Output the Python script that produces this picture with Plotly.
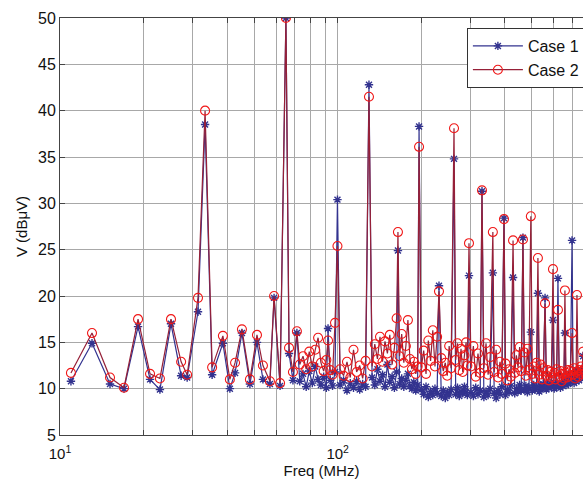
import plotly.graph_objects as go

# ---------------- data (frequency in MHz, levels in dBuV) ----------------
low_freq = [10.95, 13.04, 15.14, 17.0, 19.1, 21.1, 22.9, 25.1, 27.3, 28.7, 31.4, 33.3,
            35.3, 38.6, 40.9, 42.7, 45.2, 48.3, 51.2, 53.8, 57.0, 59.0, 62.0, 65.1,
            66.8, 69.0, 71.3]
low_case1 = [10.8, 14.9, 10.5, 10.0, 16.7, 11.0, 9.9, 17.0, 11.4, 11.2, 18.3, 38.5,
             11.5, 14.9, 10.0, 11.7, 16.0, 10.5, 15.0, 11.0, 10.5, 19.8, 10.3, 50.0,
             13.8, 10.9, 16.0]
low_case2 = [11.7, 16.0, 11.2, 10.1, 17.5, 11.6, 11.1, 17.5, 12.9, 11.5, 19.8, 40.0,
             12.3, 15.7, 11.0, 12.8, 16.4, 11.0, 15.8, 12.5, 10.8, 20.0, 10.6, 50.0,
             14.4, 11.8, 16.2]

mid_freq = [73, 75, 77, 79, 81, 83, 85, 87, 89, 91, 92.3, 94, 95.8, 97.8, 99.8,
            102, 105, 108, 111, 114, 117, 120, 123, 126, 129.6, 133, 136, 139, 142, 145,
            148, 151, 154, 157, 160, 163, 164.8, 167, 170, 173, 176, 179, 182, 185, 188,
            191, 194, 196.3, 200, 204, 208, 212, 216, 220, 224, 228, 231.6, 236, 240,
            244, 248, 252, 256, 262.3, 266, 270, 274, 278, 282, 286, 290, 293, 297]
mid_case1 = [10.8, 11.6, 10.2, 11.9, 10.6, 12.4, 11.0, 10.4, 11.3, 10.1, 16.5, 10.9, 10.3, 11.8, 30.4,
             10.4, 10.9, 9.8, 10.6, 10.1, 10.8, 9.9, 10.5, 10.2, 42.8, 11.2, 10.4, 12.1, 10.8, 11.5,
             10.2, 12.6, 10.7, 11.3, 10.1, 11.8, 24.9, 10.5, 11.1, 10.2, 10.9, 11.6, 10.3, 10.0, 10.7,
             9.8, 10.4, 38.3, 9.9, 9.4, 10.2, 9.1, 9.7, 9.3, 10.0, 9.5, 21.1, 9.2, 9.8,
             9.0, 9.6, 9.3, 9.9, 34.8, 9.4, 10.1, 9.2, 9.7, 9.5, 10.2, 9.6, 9.3, 22.2]
mid_case2 = [12.6, 13.5, 12.1, 14.0, 12.4, 14.2, 15.5, 12.8, 11.9, 13.1, 15.2, 12.0, 11.5, 17.1, 25.4,
             12.1, 11.4, 12.9, 11.2, 14.2, 11.8, 12.5, 11.1, 13.0, 41.5, 12.4, 14.8, 13.2, 15.6, 12.9,
             15.1, 13.8, 15.8, 12.6, 14.4, 17.6, 26.9, 13.5, 15.9, 12.8, 14.6, 17.4, 13.2, 12.1, 12.9,
             11.6, 12.4, 36.1, 12.3, 14.1, 11.6, 15.2, 13.0, 16.3, 12.4, 15.6, 20.5, 13.3, 11.9,
             12.8, 11.4, 14.6, 12.2, 38.1, 13.1, 14.9, 12.0, 14.3, 11.8, 13.6, 15.0, 12.5, 25.7]

high_freq = [302, 308, 314, 320, 326, 330.8, 336, 342, 348, 354, 362, 366, 372, 378, 384, 390,
             397, 402, 408, 414, 420, 428, 434, 440, 446, 452, 458, 464.6, 470, 476, 482, 488,
             496, 502, 508, 514, 520, 526, 532, 538, 544, 550, 558, 564, 570, 576, 582, 588,
             596, 602, 608, 614, 621, 628, 634, 640, 646, 652, 658, 664, 670, 676, 682, 688,
             698, 704, 710, 716, 722, 727, 734, 740, 746, 752, 758, 765, 772, 780]
high_case1 = [9.6, 9.2, 10.1, 9.4, 9.8, 31.3, 9.1, 9.7, 9.3, 10.0, 22.5, 9.5, 9.0, 9.8, 9.4, 10.2,
              28.4, 9.3, 9.9, 9.6, 10.3, 22.0, 9.5, 10.0, 9.7, 10.4, 9.8, 26.3, 9.9, 10.3, 9.6, 10.1,
              16.1, 9.8, 10.4, 9.9, 10.2, 20.3, 9.7, 10.3, 10.0, 10.5, 19.8, 9.9, 10.4, 10.1, 10.6, 10.2,
              17.4, 10.0, 10.5, 10.2, 21.9, 10.4, 10.1, 10.6, 10.3, 10.8, 16.0, 10.4, 10.9, 10.5, 11.2, 10.7,
              26.0, 11.0, 10.6, 11.3, 10.8, 12.0, 11.4, 10.9, 11.6, 11.1, 11.8, 13.5, 11.4, 11.9]
high_case2 = [12.4, 14.6, 11.3, 13.8, 11.7, 31.4, 12.2, 14.9, 11.5, 13.4, 26.9, 11.8, 14.2, 11.2, 12.9, 11.6,
              28.3, 12.7, 10.9, 12.1, 11.3, 26.0, 11.7, 13.6, 12.3, 14.5, 11.9, 26.1, 13.9, 11.4, 14.3, 12.0,
              28.6, 11.6, 12.4, 11.1, 12.8, 24.1, 11.5, 12.6, 11.0, 12.2, 19.2, 11.4, 12.0, 10.9, 11.8, 11.2,
              22.9, 11.7, 11.0, 12.1, 18.5, 11.3, 11.9, 10.8, 11.6, 11.1, 20.6, 11.7, 11.2, 12.0, 11.4, 11.9,
              16.0, 11.5, 12.2, 11.1, 11.8, 20.1, 11.3, 12.0, 11.6, 12.4, 11.8, 14.0, 12.1, 11.7]

x_major_ticks = [10, 100]
x_major_labels = ["10<sup>1</sup>", "10<sup>2</sup>"]
x_minor_ticks = [20, 30, 40, 50, 60, 70, 80, 90, 200, 300, 400, 500, 600, 700]
y_ticks = [5, 10, 15, 20, 25, 30, 35, 40, 45, 50]

freq = low_freq + mid_freq + high_freq
case1 = low_case1 + mid_case1 + high_case1
case2 = low_case2 + mid_case2 + high_case2

# ---------------- figure ----------------
FONT = "Liberation Sans, Arial, sans-serif"
fig = go.Figure()
fig.add_trace(go.Scatter(
    x=freq, y=case1, name="Case 1", mode="lines+markers",
    line=dict(color="#33338f", width=1.2),
    marker=dict(symbol="asterisk-open", size=7,
                line=dict(color="#1a1a66", width=1.4)),
))
fig.add_trace(go.Scatter(
    x=freq, y=case2, name="Case 2", mode="lines+markers",
    line=dict(color="#962038", width=1.2),
    marker=dict(symbol="circle-open", size=9, color="#f01818",
                line=dict(color="#f01818", width=1.1)),
))

tickvals = x_major_ticks[:1] + x_minor_ticks[:8] + x_major_ticks[1:] + x_minor_ticks[8:]
ticktext = [x_major_labels[0]] + [""] * 8 + [x_major_labels[1]] + [""] * 6

fig.update_layout(
    width=583, height=487,
    margin=dict(l=60, r=0, t=18, b=52, autoexpand=False),
    paper_bgcolor="white", plot_bgcolor="white",
    font=dict(family=FONT, size=15, color="#111111"),
    showlegend=True,
    legend=dict(x=0.778, y=0.976, xanchor="left", yanchor="top",
                bgcolor="white", bordercolor="#333333", borderwidth=1,
                font=dict(size=16, family=FONT), itemwidth=50,
                tracegroupgap=0),
)
fig.update_xaxes(
    type="log", range=[1, 2.8833],
    tickvals=tickvals, ticktext=ticktext,
    ticks="inside", ticklen=5, tickcolor="#444444",
    showgrid=True, gridcolor="#a8a8a8", gridwidth=1,
    showline=True, linecolor="#444444", linewidth=1, mirror="ticks",
    zeroline=False,
    tickfont=dict(size=15), ticklabelstandoff=5,
    title=dict(text="Freq (MHz)", font=dict(size=15), standoff=2),
)
fig.update_yaxes(
    range=[5, 50], tickvals=y_ticks,
    ticks="inside", ticklen=5, tickcolor="#444444",
    showgrid=True, gridcolor="#a8a8a8", gridwidth=1,
    showline=True, linecolor="#444444", linewidth=1,
    zeroline=False,
    tickfont=dict(size=16),
    title=dict(text="V (dBμV)", font=dict(size=15), standoff=6),
)

fig.write_html("out.html")
